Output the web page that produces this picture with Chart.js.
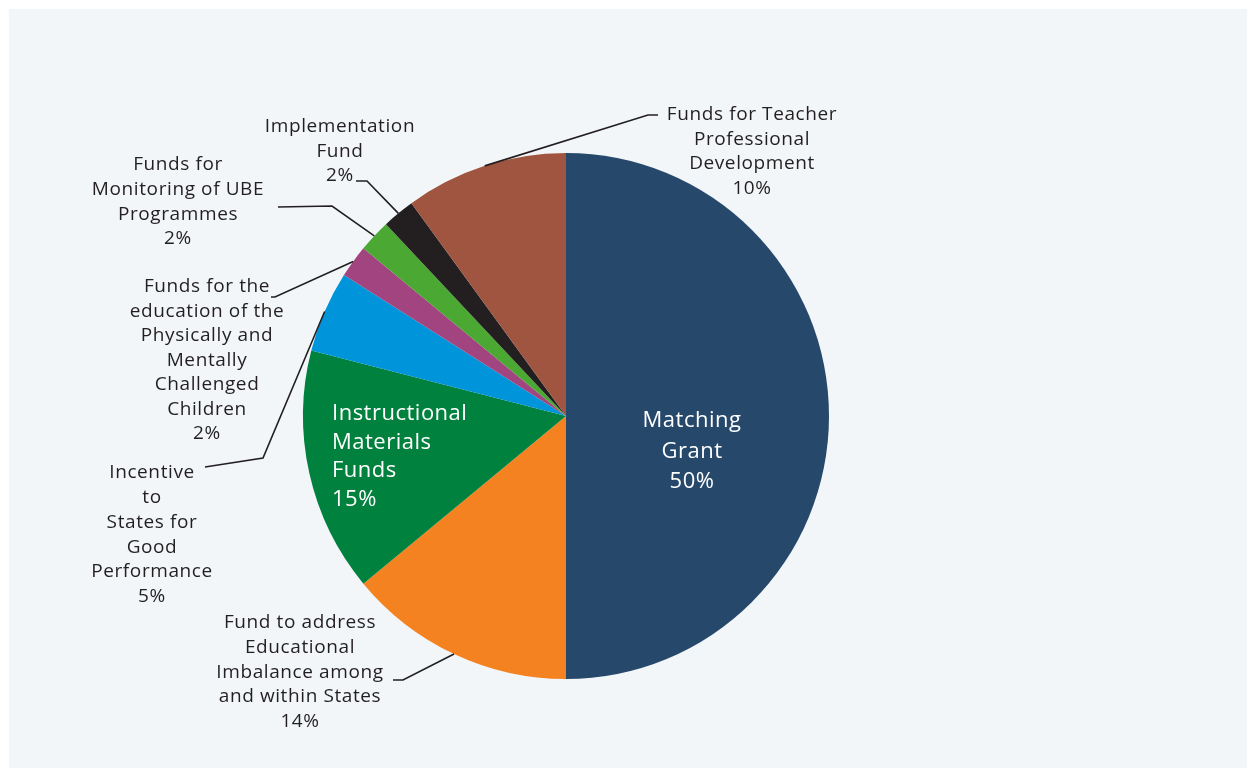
<!DOCTYPE html>
<html>
<head>
<meta charset="utf-8">
<script src="https://cdn.jsdelivr.net/npm/chart.js@4.4.1/dist/chart.umd.min.js"></script>
<style>
  html, body { margin: 0; padding: 0; background: #ffffff; }
  #wrap { width: 1247px; height: 768px; }
</style>
</head>
<body>
<div id="wrap"><canvas id="fundChart"></canvas></div>
<script>
// slices, clockwise from 12 o'clock
const categories = [
    ['Matching', 'Grant'],
    ['Fund to address', 'Educational', 'Imbalance among', 'and within States'],
    ['Instructional', 'Materials', 'Funds'],
    ['Incentive', 'to', 'States for', 'Good', 'Performance'],
    ['Funds for the', 'education of the', 'Physically and', 'Mentally', 'Challenged', 'Children'],
    ['Funds for', 'Monitoring of UBE', 'Programmes'],
    ['Implementation', 'Fund'],
    ['Funds for Teacher', 'Professional', 'Development']
];
const shares = [50, 14, 15, 5, 2, 2, 2, 10];
const sliceColors = ['#26486b', '#f58220', '#00813d', '#0095da', '#a2447f', '#4ba833', '#231f20', '#a05541'];

// where each label sits and how its leader line bends (inside = label drawn on the slice)
const labelLayout = [
    { x: 692, y: 421, lh: 30.5, align: 'center', inside: true },
    { x: 300, y: 623, lh: 24.6, align: 'center', path: [[403, 680], [393, 680]] },
    { x: 332, y: 414, lh: 28.5, align: 'left', inside: true },
    { x: 152, y: 473, lh: 24.7, align: 'center', path: [[263, 458], [205, 467]] },
    { x: 207, y: 287, lh: 24.5, align: 'center', path: [[275, 297], [271, 297]] },
    { x: 178, y: 165, lh: 24.6, align: 'center', path: [[332, 206], [278, 207]] },
    { x: 340, y: 127, lh: 24.5, align: 'center', path: [[367, 181], [356, 181]] },
    { x: 752, y: 115, lh: 24.5, align: 'center', path: [[648, 115], [658, 115]] }
];

const FONT = '"Open Sans", sans-serif';

const panelBg = {
    id: 'panelBg',
    beforeDraw: function (chart) {
        const { ctx, width, height } = chart;
        ctx.save();
        ctx.fillStyle = '#ffffff';
        ctx.fillRect(0, 0, width, height);
        ctx.fillStyle = '#f2f6f9';
        ctx.fillRect(9, 9, width - 9, height - 9);
        ctx.restore();
    }
};

const sliceLabels = {
    id: 'sliceLabels',
    afterDatasetsDraw: function (chart) {
        const ctx = chart.ctx;
        const arcs = chart.getDatasetMeta(0).data;
        ctx.save();
        arcs.forEach((arc, i) => {
            const lay = labelLayout[i];
            const p = arc.getProps(['x', 'y', 'startAngle', 'endAngle', 'outerRadius'], true);
            const mid = (p.startAngle + p.endAngle) / 2;

            if (lay.path) {
                ctx.beginPath();
                ctx.moveTo(p.x + Math.cos(mid) * p.outerRadius, p.y + Math.sin(mid) * p.outerRadius);
                lay.path.forEach(pt => ctx.lineTo(pt[0], pt[1]));
                ctx.strokeStyle = '#231f20';
                ctx.lineWidth = 1.6;
                ctx.stroke();
            }

            const lines = categories[i].concat([shares[i] + '%']);
            ctx.font = (lay.inside ? '22px ' : '19px ') + FONT;
            ctx.letterSpacing = lay.inside ? '0.5px' : '0.6px';
            ctx.fillStyle = lay.inside ? '#ffffff' : '#231f20';
            ctx.textAlign = lay.align;
            ctx.textBaseline = 'middle';
            lines.forEach((t, k) => ctx.fillText(t, lay.x, lay.y + k * lay.lh));
        });
        ctx.restore();
    }
};

new Chart(document.getElementById('fundChart').getContext('2d'), {
    type: 'pie',
    data: {
        labels: categories.map(c => c.join(' ')),
        datasets: [{
            data: shares,
            backgroundColor: sliceColors,
            borderWidth: 0
        }]
    },
    plugins: [panelBg, sliceLabels],
    options: {
        responsive: true,
        maintainAspectRatio: false,
        animation: false,
        layout: { padding: { top: 153, bottom: 89, left: 303, right: 418 } },
        plugins: {
            legend: { display: false },
            tooltip: { enabled: false }
        }
    }
});
</script>
</body>
</html>
